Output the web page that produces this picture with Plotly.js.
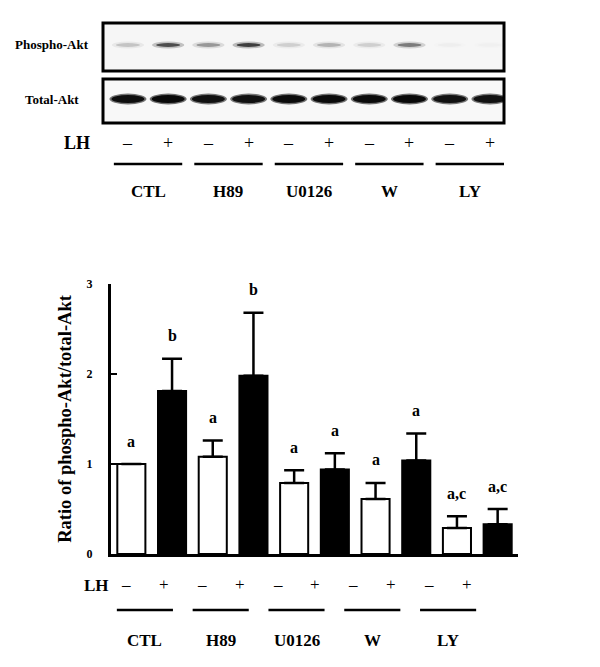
<!DOCTYPE html>
<html>
<head>
<meta charset="utf-8">
<script src="https://cdn.plot.ly/plotly-3.0.1.min.js"></script>
<style>html,body{margin:0;padding:0;background:#fff;}#chart{width:600px;height:667px;}</style>
</head>
<body>
<div id="chart"></div>
<script>
// ---- data ----
const groups = ['CTL', 'H89', 'U0126', 'W', 'LY'];
const ratioMinus = [1.00, 1.08, 0.79, 0.61, 0.29];
const semMinus   = [0.00, 0.18, 0.14, 0.18, 0.13];
const ratioPlus  = [1.81, 1.98, 0.94, 1.04, 0.33];
const semPlus    = [0.36, 0.70, 0.18, 0.30, 0.17];
const letterMinus = ['a', 'a', 'a', 'a', 'a,c'];
const letterPlus  = ['b', 'b', 'a', 'a', 'a,c'];
const lhSigns = ['\u2013', '+'];
const yTickVals = [0, 1, 2, 3];
const yTickText = ['0', '1', '2', '3'];
const blotRows = ['Phospho-Akt', 'Total-Akt'];
// band darkness per lane (0 = none, 1 = black), lanes: CTL-,CTL+,H89-,H89+,U0126-,U0126+,W-,W+,LY-,LY+
const phosphoBand = [0.18, 0.70, 0.36, 0.78, 0.14, 0.25, 0.14, 0.48, 0.03, 0.02];
const totalBand   = [0.88, 0.92, 0.86, 0.86, 0.90, 0.90, 0.90, 0.92, 0.86, 0.86];

// ---- helpers ----
const FONT = 'Liberation Serif, Times New Roman, serif';
const H = 667, W = 600;
const py = p => 1 - p / H;
const px = p => p / W;
const ink = d => `rgba(0,0,0,${d.toFixed(3)})`;
const ann = o => Object.assign({showarrow: false, xanchor: 'center', yanchor: 'middle'}, o);

const xMinus = groups.map((g, i) => 2 * i);
const xPlus = groups.map((g, i) => 2 * i + 1);

const traces = [
  {
    type: 'bar', x: xMinus, y: ratioMinus, width: 0.69, name: 'LH \u2013',
    marker: {color: '#ffffff', line: {color: '#000', width: 2}},
    error_y: {type: 'data', symmetric: false, array: semMinus, arrayminus: semMinus.map(() => 0),
              color: '#000', thickness: 2.5, width: 10},
    xaxis: 'x', yaxis: 'y', hoverinfo: 'y'
  },
  {
    type: 'bar', x: xPlus, y: ratioPlus, width: 0.69, name: 'LH +',
    marker: {color: '#000000', line: {color: '#000', width: 2}},
    error_y: {type: 'data', symmetric: false, array: semPlus, arrayminus: semPlus.map(() => 0),
              color: '#000', thickness: 2.5, width: 10},
    xaxis: 'x', yaxis: 'y', hoverinfo: 'y'
  }
];

const annotations = [];
const shapes = [];
const bold = (size) => ({family: FONT, size: size, color: '#000', weight: 'bold'});
const plain = (size) => ({family: FONT, size: size, color: '#000'});

// significance letters
groups.forEach((g, i) => {
  annotations.push(ann({x: xMinus[i], y: ratioMinus[i] + semMinus[i], xref: 'x', yref: 'y', text: letterMinus[i],
    yshift: 23, font: bold(16)}));
  annotations.push(ann({x: xPlus[i], y: ratioPlus[i] + semPlus[i], xref: 'x', yref: 'y', text: letterPlus[i],
    yshift: 23, font: bold(16)}));
});

// bottom LH row, group lines and labels (on compressed label axis x2)
annotations.push(ann({x: px(96), y: py(585), xref: 'paper', yref: 'paper', text: 'LH', font: bold(17)}));
groups.forEach((g, i) => {
  lhSigns.forEach((s, k) => {
    annotations.push(ann({x: 2 * i + k, y: py(584), xref: 'x2', yref: 'paper', text: s, font: plain(17)}));
  });
  shapes.push({type: 'line', xref: 'x2', yref: 'paper', x0: 2 * i + 0.5 - 0.74, x1: 2 * i + 0.5 + 0.74,
    y0: py(610), y1: py(610), line: {color: '#000', width: 2.5}});
  annotations.push(ann({x: 2 * i + 0.5, y: py(640), xref: 'x2', yref: 'paper', text: g, font: bold(17)}));
});

// ---- blot panel (x3 / y3) ----
// row coordinates: phospho row = 1, total row = 0
shapes.push({type: 'rect', xref: 'x3 domain', yref: 'y3 domain', x0: 0, x1: 1, y0: 0.52, y1: 1,
  fillcolor: '#f6f6f6', line: {color: '#000', width: 3}, layer: 'below'});
shapes.push({type: 'rect', xref: 'x3 domain', yref: 'y3 domain', x0: 0, x1: 1, y0: 0, y1: 0.44,
  fillcolor: '#f8f8f8', line: {color: '#000', width: 3}, layer: 'below'});
phosphoBand.forEach((d, lane) => {
  shapes.push({type: 'circle', xref: 'x3', yref: 'y3', x0: lane - 0.40, x1: lane + 0.40, y0: 1 - 0.065, y1: 1 + 0.065,
    fillcolor: ink(d * 0.3), line: {width: 0}, layer: 'above'});
  shapes.push({type: 'circle', xref: 'x3', yref: 'y3', x0: lane - 0.30, x1: lane + 0.30, y0: 1 - 0.035, y1: 1 + 0.035,
    fillcolor: ink(d * 0.85), line: {width: 0}, layer: 'above'});
});
totalBand.forEach((d, lane) => {
  shapes.push({type: 'circle', xref: 'x3', yref: 'y3', x0: lane - 0.46, x1: lane + 0.46, y0: -0.1, y1: 0.1,
    fillcolor: ink(d * 0.6), line: {width: 0}, layer: 'above'});
  shapes.push({type: 'circle', xref: 'x3', yref: 'y3', x0: lane - 0.41, x1: lane + 0.41, y0: -0.075, y1: 0.075,
    fillcolor: ink(d), line: {width: 0}, layer: 'above'});
});
blotRows.forEach((r, k) => {
  annotations.push(ann({x: px(52), y: 1 - k, xref: 'paper', yref: 'y3', text: r, font: bold(13)}));
});
annotations.push(ann({x: px(77), y: py(143), xref: 'paper', yref: 'paper', text: 'LH', font: bold(18)}));
groups.forEach((g, i) => {
  lhSigns.forEach((s, k) => {
    annotations.push(ann({x: 2 * i + k, y: py(143), xref: 'x3', yref: 'paper', text: s, font: plain(18)}));
  });
  shapes.push({type: 'line', xref: 'x3', yref: 'paper', x0: 2 * i + 0.5 - 0.85, x1: 2 * i + 0.5 + 0.85,
    y0: py(164), y1: py(164), line: {color: '#000', width: 2.5}});
  annotations.push(ann({x: 2 * i + 0.5, y: py(192), xref: 'x3', yref: 'paper', text: g, font: bold(17)}));
});

const layout = {
  width: W, height: H,
  margin: {l: 0, r: 0, t: 0, b: 0},
  paper_bgcolor: '#fff', plot_bgcolor: 'rgba(0,0,0,0)',
  showlegend: false,
  barmode: 'overlay',
  font: {family: FONT, color: '#000'},
  xaxis: {domain: [px(111), px(518)], range: [-0.5, 9.5], showline: true, linecolor: '#000', linewidth: 2.5,
          showticklabels: false, ticks: '', showgrid: false, zeroline: false, anchor: 'y', fixedrange: true},
  yaxis: {domain: [py(554), py(284)], range: [0, 3], showline: true, linecolor: '#000', linewidth: 3,
          ticks: 'inside', ticklen: 6, tickwidth: 2, tickcolor: '#000',
          tickvals: yTickVals, ticktext: yTickText, ticklabelstandoff: 13,
          tickfont: bold(12),
          showgrid: false, zeroline: false, anchor: 'x', fixedrange: true,
          title: {text: 'Ratio of phospho-Akt/total-Akt', standoff: 11, font: bold(18.5)}},
  xaxis2: {domain: [px(107), px(486)], range: [-0.5, 9.5], visible: false, anchor: 'y2', fixedrange: true},
  yaxis2: {domain: [0, 0.1], range: [0, 1], visible: false, anchor: 'x2', fixedrange: true},
  xaxis3: {domain: [px(103), px(504)], range: [-0.62, 9.35], visible: false, anchor: 'y3', fixedrange: true},
  yaxis3: {domain: [py(123), py(23)], range: [-0.444, 1.407], visible: false, anchor: 'x3', fixedrange: true},
  annotations: annotations,
  shapes: shapes
};

Plotly.newPlot('chart', traces, layout, {displayModeBar: false, staticPlot: true});
</script>
</body>
</html>
